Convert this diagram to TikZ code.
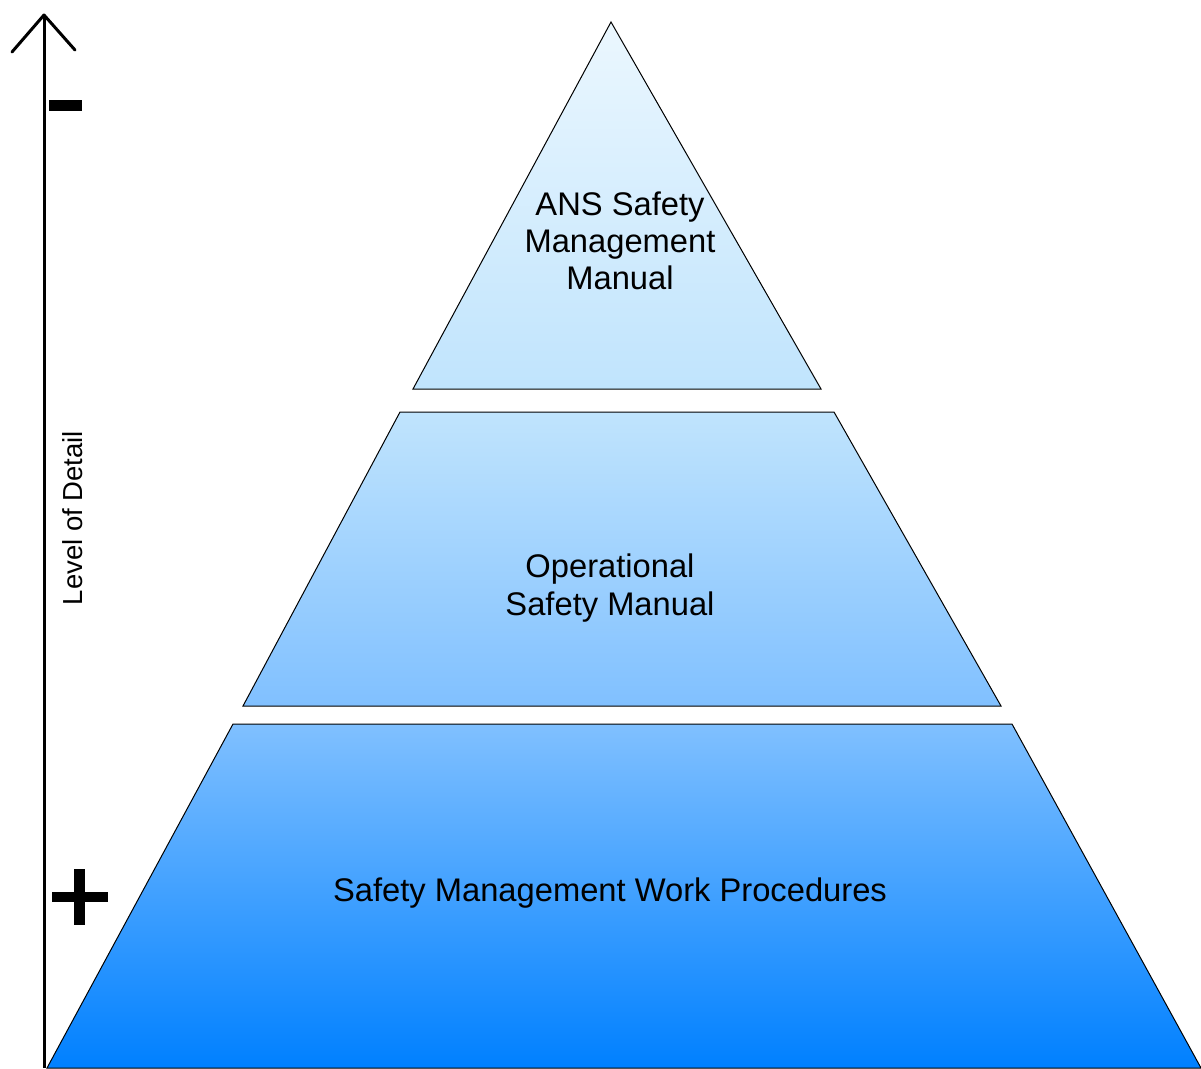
\documentclass[tikz,border=0pt]{standalone}
\usepackage{fontspec}
\setmainfont{Liberation Sans}
\definecolor{c1}{RGB}{235,247,254}
\definecolor{c2}{RGB}{192,228,253}
\definecolor{c3}{RGB}{128,192,255}
\definecolor{c4}{RGB}{0,128,255}
\begin{document}
\begin{tikzpicture}[x=1pt,y=-1pt,
  tier/.style={draw=black,line width=1pt,line join=miter},
  lbl/.style={align=center,font=\fontsize{32.7}{37.2}\selectfont,inner sep=0pt},
  axis/.style={line width=3pt,line cap=round,line join=round}]
\useasboundingbox (0,0) rectangle (1201,1068);
% tiers
\path[tier,top color=c1,bottom color=c2] (611,22) -- (821,389) -- (413,389) -- cycle;
\path[tier,top color=c2,bottom color=c3] (400,412) -- (834,412) -- (1001,706) -- (243,706) -- cycle;
\path[tier,top color=c3,bottom color=c4] (233,724) -- (1012,724) -- (1201,1068) -- (47,1068) -- cycle;
% labels
\node[lbl] (ans) at (620,241) {ANS Safety\\Management\\Manual};
\node[lbl] (ops) at (610,588) {Operational\\Safety Manual};
\node[lbl] (smw) at (610,893) {Safety Management Work Procedures};
% axis
\coordinate (atop) at (44,15);
\coordinate (abot) at (44,1068);
\coordinate (al) at (12,52);
\coordinate (ar) at (75,50);
\draw[line width=3pt] (abot) -- (atop);
\draw[axis] (al) -- (atop) -- (ar);
\node[rotate=90,font=\fontsize{27.5}{30}\selectfont,inner sep=0pt] (lod) at (73,518) {Level of Detail};
% minus and plus
\fill (49,100) rectangle (82,111);
\fill (52,892) rectangle (108,902);
\fill (74,869) rectangle (85,925);
\end{tikzpicture}
\end{document}
